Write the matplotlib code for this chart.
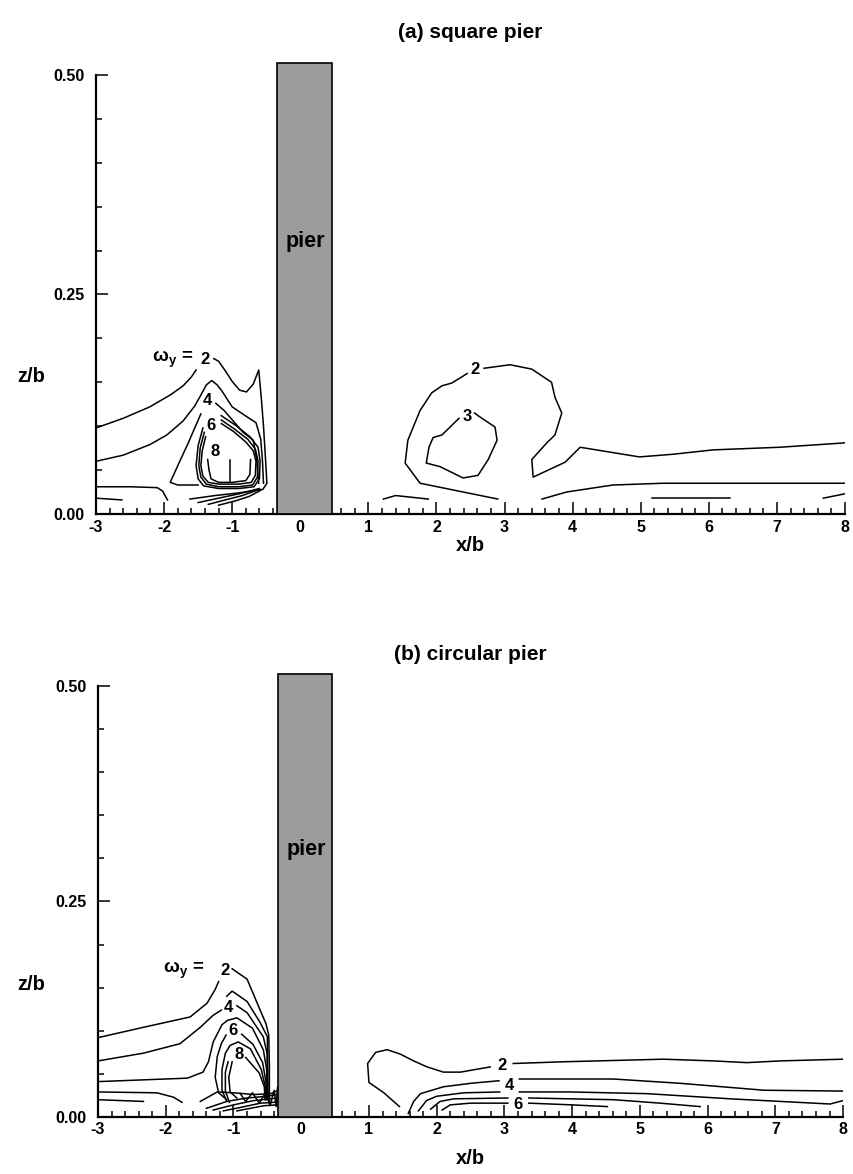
import matplotlib
matplotlib.use('Agg')
import matplotlib.pyplot as plt
from matplotlib.patches import Rectangle

plt.rcParams['font.family'] = ['Liberation Sans', 'DejaVu Sans']
plt.rcParams['mathtext.fontset'] = 'custom'
plt.rcParams['mathtext.rm'] = 'Liberation Sans:bold'
plt.rcParams['mathtext.bf'] = 'Liberation Sans:bold'
plt.rcParams['mathtext.default'] = 'regular'

# ---------------- data (x/b, z/b) ----------------
X_LIM = (-3, 8)
Z_LIM = (0, 0.5)
PIER_X = (-0.34, 0.46)
PIER_TOP = 0.514
X_TICKS = [-3, -2, -1, 0, 1, 2, 3, 4, 5, 6, 7, 8]
Z_TICKS = [0.0, 0.25, 0.5]
Z_TICK_LABELS = ['0.00', '0.25', '0.50']

# panel (a) square pier
A_c2_left = [(-3.0, 0.098), (-2.6, 0.109), (-2.21, 0.122), (-1.9, 0.136), (-1.72, 0.146), (-1.6, 0.156), (-1.53, 0.164)]
A_c2_right = [(-1.27, 0.177), (-1.20, 0.174), (-1.10, 0.163), (-1.00, 0.151), (-0.89, 0.141), (-0.79, 0.139),
              (-0.69, 0.148), (-0.61, 0.164), (-0.57, 0.130), (-0.54, 0.100), (-0.51, 0.062), (-0.49, 0.035),
              (-0.55, 0.028), (-0.90, 0.024), (-1.25, 0.021), (-1.62, 0.017)]
A_c3 = [(-3.0, 0.060), (-2.6, 0.067), (-2.21, 0.079), (-1.96, 0.090), (-1.72, 0.106), (-1.55, 0.123), (-1.47, 0.134),
        (-1.38, 0.147), (-1.30, 0.152), (-1.22, 0.147), (-1.15, 0.140), (-1.00, 0.122), (-0.79, 0.111),
        (-0.65, 0.104), (-0.58, 0.085), (-0.555, 0.060), (-0.54, 0.035)]
A_c4_left = [(-1.46, 0.114), (-1.55, 0.098), (-1.65, 0.080), (-1.77, 0.060), (-1.91, 0.036), (-1.80, 0.033),
             (-1.65, 0.033), (-1.50, 0.033)]
A_c4_right = [(-1.24, 0.126), (-1.12, 0.118), (-1.03, 0.110), (-0.84, 0.093), (-0.69, 0.084), (-0.64, 0.062),
              (-0.61, 0.035)]
A_c5 = [(-1.43, 0.098), (-1.50, 0.078), (-1.53, 0.055), (-1.50, 0.040), (-1.42, 0.032), (-1.2, 0.029), (-0.9, 0.029),
        (-0.68, 0.031), (-0.60, 0.040), (-0.59, 0.060), (-0.62, 0.076), (-0.74, 0.088), (-0.95, 0.101), (-1.16, 0.112)]
A_c6 = [(-1.41, 0.093), (-1.47, 0.075), (-1.49, 0.055), (-1.46, 0.042), (-1.38, 0.034), (-1.2, 0.031), (-0.9, 0.031),
        (-0.70, 0.033), (-0.63, 0.042), (-0.62, 0.060), (-0.66, 0.074), (-0.77, 0.085), (-0.97, 0.097), (-1.16, 0.107)]
A_c7 = [(-1.39, 0.088), (-1.44, 0.072), (-1.46, 0.055), (-1.43, 0.043), (-1.35, 0.036), (-1.2, 0.034), (-0.9, 0.034),
        (-0.72, 0.036), (-0.66, 0.044), (-0.65, 0.060), (-0.69, 0.072), (-0.80, 0.082), (-0.98, 0.094), (-1.16, 0.103)]
A_c8 = [(-1.36, 0.062), (-1.34, 0.050), (-1.31, 0.040), (-1.2, 0.036), (-1.0, 0.036), (-0.8, 0.038), (-0.74, 0.045),
        (-0.73, 0.062)]
A_c8b = [(-1.03, 0.062), (-1.03, 0.037)]
A_f1 = [(-1.50, 0.013), (-1.2, 0.018), (-0.9, 0.023), (-0.6, 0.029)]
A_f2 = [(-1.35, 0.011), (-1.1, 0.016), (-0.85, 0.021), (-0.6, 0.028)]
A_f3 = [(-1.20, 0.010), (-0.95, 0.015), (-0.75, 0.020), (-0.58, 0.027)]
A_bot1 = [(-3.0, 0.031), (-2.5, 0.031), (-2.1, 0.030), (-2.02, 0.026), (-1.95, 0.016)]
A_bot2 = [(-3.0, 0.018), (-2.62, 0.016)]
A_r2a = [(2.90, 0.017), (1.76, 0.035), (1.54, 0.058), (1.58, 0.084), (1.76, 0.118), (1.93, 0.138), (2.08, 0.146),
         (2.22, 0.149), (2.37, 0.156), (2.45, 0.160)]
A_r2b = [(2.70, 0.166), (3.08, 0.170), (3.40, 0.165), (3.69, 0.150), (3.74, 0.133), (3.84, 0.115), (3.74, 0.090),
         (3.62, 0.081), (3.40, 0.062), (3.42, 0.042), (3.89, 0.059), (4.11, 0.076), (4.98, 0.065), (5.47, 0.068),
         (6.06, 0.073), (7.04, 0.076), (8.0, 0.081)]
A_r3 = [(2.33, 0.109), (2.20, 0.099), (2.08, 0.090), (1.95, 0.087), (1.89, 0.076), (1.85, 0.058), (2.05, 0.054),
        (2.39, 0.041), (2.61, 0.044), (2.76, 0.062), (2.89, 0.084), (2.86, 0.099), (2.61, 0.112), (2.56, 0.115)]
A_rlow = [(3.55, 0.017), (3.91, 0.025), (4.59, 0.033), (5.33, 0.035), (6.56, 0.035), (8.0, 0.035)]
A_s1 = [(1.22, 0.017), (1.40, 0.021), (1.88, 0.017)]
A_s2 = [(5.17, 0.018), (6.31, 0.018)]
A_s3 = [(7.68, 0.018), (8.0, 0.023)]
A_labels = [('2', -1.40, 0.176), ('4', -1.37, 0.129), ('6', -1.31, 0.101), ('8', -1.25, 0.071),
            ('2', 2.57, 0.164), ('3', 2.45, 0.111)]
A_omega = (-1.58, 0.176)

# panel (b) circular pier
B_c2_left = [(-3.0, 0.092), (-2.33, 0.104), (-1.64, 0.116), (-1.39, 0.132), (-1.27, 0.148), (-1.22, 0.157)]
B_c2_right = [(-1.02, 0.172), (-0.95, 0.168), (-0.80, 0.160), (-0.65, 0.132), (-0.52, 0.108), (-0.48, 0.095),
              (-0.47, 0.060), (-0.47, 0.016)]
B_c3 = [(-1.10, 0.140), (-1.02, 0.146), (-0.80, 0.134), (-0.61, 0.110), (-0.50, 0.093), (-0.49, 0.023)]
B_c4_left = [(-3.0, 0.065), (-2.33, 0.074), (-1.79, 0.085), (-1.49, 0.104), (-1.30, 0.118), (-1.18, 0.124)]
B_c4_right = [(-0.95, 0.129), (-0.80, 0.121), (-0.56, 0.093), (-0.505, 0.074), (-0.495, 0.023)]
B_c5 = [(-3.0, 0.041), (-1.68, 0.045), (-1.45, 0.052), (-1.37, 0.064), (-1.30, 0.087), (-1.17, 0.107),
        (-1.09, 0.112), (-0.95, 0.115), (-0.72, 0.103), (-0.56, 0.078), (-0.51, 0.055), (-0.50, 0.020)]
B_c6_left = [(-1.11, 0.095), (-1.18, 0.085), (-1.24, 0.070), (-1.27, 0.046), (-1.22, 0.028), (-1.10, 0.020)]
B_c6_right = [(-0.88, 0.096), (-0.71, 0.084), (-0.57, 0.063), (-0.52, 0.040), (-0.51, 0.020)]
B_c7 = [(-1.10, 0.018), (-1.17, 0.031), (-1.17, 0.055), (-1.12, 0.074), (-1.05, 0.083), (-0.93, 0.087),
        (-0.75, 0.079), (-0.59, 0.055), (-0.53, 0.035), (-0.52, 0.020)]
B_c7b = [(-1.06, 0.017), (-1.12, 0.030), (-1.12, 0.052), (-1.08, 0.064)]
B_c8_left = [(-1.02, 0.064), (-1.07, 0.046), (-1.05, 0.029), (-0.95, 0.022)]
B_c8_right = [(-0.82, 0.069), (-0.62, 0.051), (-0.545, 0.035), (-0.535, 0.020)]
B_f1 = [(-1.49, 0.018), (-1.24, 0.029), (-1.0, 0.028), (-0.7, 0.026), (-0.45, 0.027), (-0.36, 0.030)]
B_f2 = [(-1.40, 0.010), (-1.1, 0.018), (-0.8, 0.022), (-0.5, 0.024), (-0.36, 0.026)]
B_f3 = [(-1.30, 0.008), (-1.0, 0.014), (-0.7, 0.019), (-0.45, 0.021), (-0.36, 0.022)]
B_f4 = [(-1.15, 0.007), (-0.9, 0.011), (-0.6, 0.016), (-0.40, 0.017), (-0.36, 0.018)]
B_f5 = [(-0.95, 0.007), (-0.75, 0.010), (-0.55, 0.013), (-0.36, 0.014)]
B_f6 = [(-0.90, 0.027), (-0.82, 0.018), (-0.72, 0.028), (-0.62, 0.016), (-0.52, 0.029), (-0.46, 0.013),
        (-0.40, 0.031), (-0.37, 0.012), (-0.35, 0.034)]
B_bot4 = [(-3.0, 0.029), (-2.13, 0.028), (-1.89, 0.023), (-1.76, 0.017)]
B_bot5 = [(-3.0, 0.020), (-2.33, 0.018)]
B_r2a = [(1.45, 0.012), (1.22, 0.028), (1.00, 0.040), (0.98, 0.062), (1.10, 0.075), (1.27, 0.078), (1.46, 0.073),
         (1.66, 0.065), (1.86, 0.058), (2.10, 0.052), (2.35, 0.052), (2.79, 0.058)]
B_r2b = [(3.13, 0.062), (3.87, 0.064), (5.35, 0.067), (6.09, 0.065), (6.58, 0.063), (7.07, 0.065), (8.0, 0.067)]
B_r3a = [(1.58, 0.004), (1.66, 0.018), (1.76, 0.027), (2.1, 0.035), (2.5, 0.039), (2.92, 0.042)]
B_r3b = [(3.22, 0.044), (4.61, 0.044), (5.60, 0.039), (6.83, 0.031), (8.0, 0.030)]
B_r4a = [(1.73, 0.007), (1.85, 0.019), (2.0, 0.024), (2.4, 0.028), (2.93, 0.029)]
B_r4b = [(3.22, 0.029), (3.97, 0.029), (5.11, 0.027), (6.34, 0.021), (7.81, 0.015), (8.0, 0.019)]
B_r5a = [(1.91, 0.009), (2.05, 0.018), (2.25, 0.021), (3.05, 0.022)]
B_r5b = [(3.36, 0.022), (4.61, 0.020), (5.30, 0.016), (5.89, 0.012)]
B_r6a = [(2.08, 0.008), (2.20, 0.014), (2.5, 0.016), (3.05, 0.016)]
B_r6b = [(3.36, 0.016), (4.0, 0.014), (4.52, 0.012)]
B_labels = [('2', -1.12, 0.170), ('4', -1.07, 0.127), ('6', -1.00, 0.100), ('8', -0.92, 0.072),
            ('2', 2.96, 0.060), ('4', 3.07, 0.036), ('6', 3.20, 0.015)]
B_omega = (-1.44, 0.170)

A_lines = [A_c2_left, A_c2_right, A_c3, A_c4_left, A_c4_right, A_c5, A_c6, A_c7, A_c8, A_c8b,
           A_f1, A_f2, A_f3, A_bot1, A_bot2, A_r2a, A_r2b, A_r3, A_rlow, A_s1, A_s2, A_s3]
B_lines = [B_c2_left, B_c2_right, B_c3, B_c4_left, B_c4_right, B_c5, B_c6_left, B_c6_right, B_c7, B_c7b,
           B_c8_left, B_c8_right, B_f1, B_f2, B_f3, B_f4, B_f5, B_f6, B_bot4, B_bot5,
           B_r2a, B_r2b, B_r3a, B_r3b, B_r4a, B_r4b, B_r5a, B_r5b, B_r6a, B_r6b]

# ---------------- figure ----------------
W, H = 854, 1174
fig = plt.figure(figsize=(W / 100, H / 100), dpi=100)
fig.patch.set_facecolor('white')

panels = [
    ('(a) square pier', [0.1124, 0.5622, 0.8771, 0.3739], A_lines, A_labels, A_omega, 33, 545, 377),
    ('(b) circular pier', [0.1148, 0.0486, 0.8724, 0.3671], B_lines, B_labels, B_omega, 655, 1158, 985),
]

for title, rect, lines, labels, omega, ty, xly, zly in panels:
    ax = fig.add_axes(rect)
    ax.set_xlim(*X_LIM)
    ax.set_ylim(*Z_LIM)
    for s in ['top', 'right']:
        ax.spines[s].set_visible(False)
    for s in ['left', 'bottom']:
        ax.spines[s].set_linewidth(1.6)
    ax.set_xticks(X_TICKS)
    ax.set_xticklabels([str(v) for v in X_TICKS])
    ax.set_xticks([v / 5 for v in range(-15, 41)], minor=True)
    ax.set_yticks(Z_TICKS)
    ax.set_yticklabels(Z_TICK_LABELS)
    ax.set_yticks([v * 0.05 for v in range(11)], minor=True)
    ax.tick_params(which='both', direction='in', width=1.1, labelsize=11.5)
    ax.tick_params(which='major', length=8.5)
    ax.tick_params(which='minor', length=4.5)
    ax.tick_params(axis='y', pad=8)
    ax.tick_params(axis='x', pad=4)
    for lab in ax.get_xticklabels() + ax.get_yticklabels():
        lab.set_fontweight('bold')

    for ln in lines:
        xs = [p[0] for p in ln]
        zs = [p[1] for p in ln]
        ax.plot(xs, zs, color='black', lw=1.1, solid_joinstyle='round', zorder=2)

    for txt, x, z in labels:
        ax.text(x, z, txt, ha='center', va='center', fontsize=12, fontweight='bold', zorder=4)
    ax.text(omega[0], omega[1], 'ω$_{y}$ =', ha='right', va='center', fontsize=13.5,
            fontweight='bold', zorder=4)

    pier = Rectangle((PIER_X[0], 0), PIER_X[1] - PIER_X[0], PIER_TOP, facecolor='#9c9c9c',
                     edgecolor='black', lw=1.2, clip_on=False, zorder=3)
    ax.add_patch(pier)
    ax.text((PIER_X[0] + PIER_X[1]) / 2 + 0.02, 0.31, 'pier', ha='center', va='center',
            fontsize=15.5, fontweight='bold', zorder=4)

    fig.text(470 / W, 1 - xly / H, 'x/b', ha='center', va='center', fontsize=14.5, fontweight='bold')
    fig.text(31 / W, 1 - zly / H, 'z/b', ha='center', va='center', fontsize=14.5, fontweight='bold')
    fig.text(470 / W, 1 - ty / H, title, ha='center', va='center', fontsize=15, fontweight='bold')

fig.savefig('out.png', dpi=100, facecolor='white')
